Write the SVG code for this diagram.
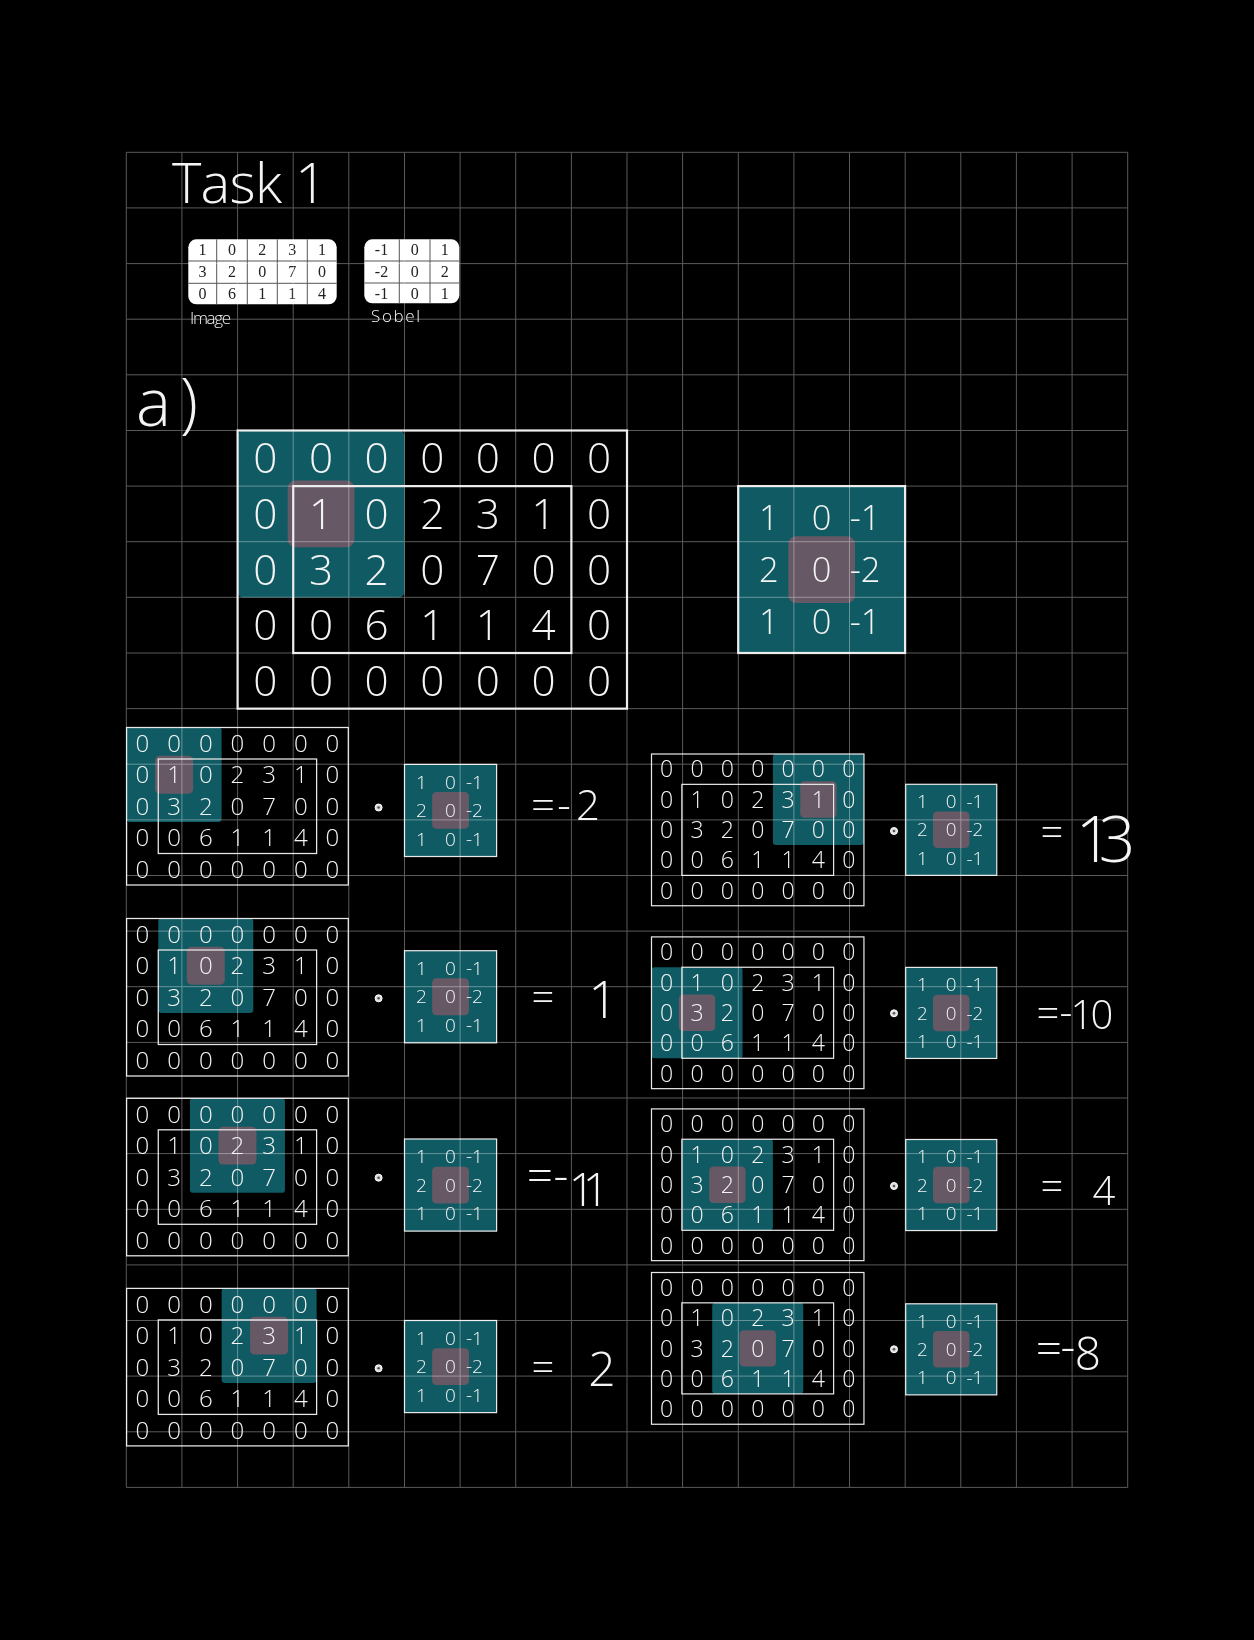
<svg xmlns="http://www.w3.org/2000/svg" xmlns:xlink="http://www.w3.org/1999/xlink" width="1254" height="1640" viewBox="0 0 1254 1640">
<style>
.bx{fill:none;stroke:#e8e8e8;stroke-width:4}
.md{font-family:"Open Sans",Lato,"Liberation Sans",sans-serif;font-weight:300;font-size:76px;fill:#f4f4f4;text-anchor:middle}
.kd{font-family:"Open Sans",Lato,"Liberation Sans",sans-serif;font-weight:300;font-size:62px;fill:#f4f4f4;text-anchor:middle}
.kt{fill:#0f5a63;stroke:#e8e8e8;stroke-width:4}
.tl{fill:#0f5a63}
.pk{fill:#675866}
.hw{font-family:"Open Sans",Lato,"Liberation Sans",sans-serif;font-weight:300;fill:#f4f4f4}
.res{font-family:"Open Sans",Lato,"Liberation Sans",sans-serif;font-weight:300;fill:#f4f4f4;text-anchor:middle}
.tb{fill:#ffffff}
.tbl{fill:none;stroke:#555555;stroke-width:1}
.tt{font-family:"Liberation Serif",serif;font-size:16px;fill:#222222;text-anchor:middle}
.grid{fill:none;stroke:#5a5a5a;stroke-width:1;mix-blend-mode:screen}
.dot{fill:#dddddd;stroke:#ffffff;stroke-width:1}
.dotc{fill:#555555}
</style>
<defs>
<g id="mat">
<rect class="bx" x="0" y="0" width="700" height="500"/>
<rect class="bx" x="100" y="100" width="500" height="300"/>
<text class="md" x="50 150 250 350 450 550 650" y="77">0000000</text>
<text class="md" x="50 150 250 350 450 550 650" y="177">0102310</text>
<text class="md" x="50 150 250 350 450 550 650" y="277">0320700</text>
<text class="md" x="50 150 250 350 450 550 650" y="377">0061140</text>
<text class="md" x="50 150 250 350 450 550 650" y="477">0000000</text>
</g>
<g id="ker">
<rect class="kt" x="0" y="0" width="300" height="300"/>
<rect class="pk" x="90" y="90" width="120" height="120" rx="14"/>
<text class="kd" x="55" y="79">1</text><text class="kd" x="150" y="79">0</text><text class="kd" x="228" y="79">-1</text>
<text class="kd" x="55" y="172">2</text><text class="kd" x="150" y="172">0</text><text class="kd" x="228" y="172">-2</text>
<text class="kd" x="55" y="265">1</text><text class="kd" x="150" y="265">0</text><text class="kd" x="228" y="265">-1</text>
</g>
</defs>
<rect x="0" y="0" width="1254" height="1640" fill="#000000"/>

<g id="title">
<text class="hw" x="172" y="203" font-size="56" textLength="155">Task 1</text>
</g>

<g id="image-table">
<rect class="tb" x="188.3" y="239.3" width="148.4" height="65" rx="8"/>
<path class="tbl" d="M216.7 239.3V304.3M247.3 239.3V304.3M277.3 239.3V304.3M307.3 239.3V304.3M188.3 261H336.7M188.3 283.3H336.7"/>
<text class="tt" x="202.5 232 262.3 292.3 322" y="254.5">10231</text>
<text class="tt" x="202.5 232 262.3 292.3 322" y="276.7">32070</text>
<text class="tt" x="202.5 232 262.3 292.3 322" y="299.3">06114</text>
<text class="hw" x="190" y="324" font-size="17" textLength="41">Image</text>
</g>

<g id="sobel-table">
<rect class="tb" x="364.3" y="239.3" width="95" height="64" rx="8"/>
<path class="tbl" d="M399.3 239.3V303.3M430 239.3V303.3M364.3 261H459.3M364.3 283H459.3"/>
<text class="tt" x="381.5" y="254.5">-1</text><text class="tt" x="414.7" y="254.5">0</text><text class="tt" x="444.7" y="254.5">1</text>
<text class="tt" x="381.5" y="276.7">-2</text><text class="tt" x="414.7" y="276.7">0</text><text class="tt" x="444.7" y="276.7">2</text>
<text class="tt" x="381.5" y="299.3">-1</text><text class="tt" x="414.7" y="299.3">0</text><text class="tt" x="444.7" y="299.3">1</text>
<text class="hw" x="371" y="322" font-size="17" textLength="49">Sobel</text>
</g>

<g id="part-a">
<text class="hw" x="136" y="426" font-size="66" textLength="62">a)</text>
</g>

<g id="big-matrix" transform="translate(237.6,430.5) scale(0.5563)">
<rect class="tl" x="0" y="0" width="300" height="300" rx="10"/>
<rect class="pk" x="90" y="90" width="120" height="120" rx="14"/>
<use href="#mat"/>
</g>
<g id="big-kernel" transform="translate(738.2,486.1) scale(0.5563)">
<use href="#ker"/>
</g>

<g id="step-1">
<g transform="translate(126.6,727.5) scale(0.3167,0.315)">
<rect class="tl" x="0" y="0" width="300" height="300" rx="10"/>
<rect class="pk" x="90" y="90" width="120" height="120" rx="14"/>
<use href="#mat"/>
</g>
<circle class="dot" cx="378.6" cy="807.5" r="3.5"/><circle class="dotc" cx="378.6" cy="807.5" r="1.3"/>
<g transform="translate(404.5,764.4) scale(0.307)"><use href="#ker"/></g>
<text class="res" font-size="42" x="543 564 588" y="820">=-2</text>
</g>

<g id="step-2">
<g transform="translate(126.6,918.5) scale(0.3167,0.315)">
<rect class="tl" x="100" y="0" width="300" height="300" rx="10"/>
<rect class="pk" x="190" y="90" width="120" height="120" rx="14"/>
<use href="#mat"/>
</g>
<circle class="dot" cx="378.6" cy="998.3" r="3.5"/><circle class="dotc" cx="378.6" cy="998.3" r="1.3"/>
<g transform="translate(404.5,950.7) scale(0.307)"><use href="#ker"/></g>
<text class="res" font-size="40" x="543" y="1011">=</text>
<text class="res" font-size="52" x="603" y="1018">1</text>
</g>

<g id="step-3">
<g transform="translate(126.6,1098.3) scale(0.3167,0.315)">
<rect class="tl" x="200" y="0" width="300" height="300" rx="10"/>
<rect class="pk" x="290" y="90" width="120" height="120" rx="14"/>
<use href="#mat"/>
</g>
<circle class="dot" cx="378.6" cy="1177.7" r="3.5"/><circle class="dotc" cx="378.6" cy="1177.7" r="1.3"/>
<g transform="translate(404.5,1139) scale(0.307)"><use href="#ker"/></g>
<text class="res" font-size="46" x="540 561 582 596" y="1192 1191 1206 1206">=-11</text>
</g>

<g id="step-4">
<g transform="translate(126.6,1288.4) scale(0.3167,0.315)">
<rect class="tl" x="300" y="0" width="300" height="300" rx="10"/>
<rect class="pk" x="390" y="90" width="120" height="120" rx="14"/>
<use href="#mat"/>
</g>
<circle class="dot" cx="378.6" cy="1368.3" r="3.5"/><circle class="dotc" cx="378.6" cy="1368.3" r="1.3"/>
<g transform="translate(404.5,1320.5) scale(0.307)"><use href="#ker"/></g>
<text class="res" font-size="40" x="543" y="1381">=</text>
<text class="res" font-size="48" x="602" y="1386">2</text>
</g>

<g id="step-5">
<g transform="translate(651.5,754) scale(0.3035)">
<rect class="tl" x="400" y="0" width="300" height="300" rx="10"/>
<rect class="pk" x="490" y="90" width="120" height="120" rx="14"/>
<use href="#mat"/>
</g>
<circle class="dot" cx="894" cy="831" r="3.5"/><circle class="dotc" cx="894" cy="831" r="1.3"/>
<g transform="translate(905.7,784.3) scale(0.3035)"><use href="#ker"/></g>
<text class="res" font-size="40" x="1052" y="846">=</text>
<text class="res" font-size="64" x="1094 1117" y="862">13</text>
</g>

<g id="step-6">
<g transform="translate(651.5,936.9) scale(0.3035)">
<rect class="tl" x="0" y="100" width="300" height="300" rx="10"/>
<rect class="pk" x="90" y="190" width="120" height="120" rx="14"/>
<use href="#mat"/>
</g>
<circle class="dot" cx="894" cy="1013.3" r="3.5"/><circle class="dotc" cx="894" cy="1013.3" r="1.3"/>
<g transform="translate(905.7,967.4) scale(0.3035)"><use href="#ker"/></g>
<text class="res" font-size="40" x="1048 1066 1082 1102" y="1027 1026 1029 1029">=-10</text>
</g>

<g id="step-7">
<g transform="translate(651.5,1108.9) scale(0.3035)">
<rect class="tl" x="100" y="100" width="300" height="300" rx="10"/>
<rect class="pk" x="190" y="190" width="120" height="120" rx="14"/>
<use href="#mat"/>
</g>
<circle class="dot" cx="894" cy="1186" r="3.5"/><circle class="dotc" cx="894" cy="1186" r="1.3"/>
<g transform="translate(905.7,1139.5) scale(0.3035)"><use href="#ker"/></g>
<text class="res" font-size="40" x="1052" y="1200">=</text>
<text class="res" font-size="40" x="1104" y="1205">4</text>
</g>

<g id="step-8">
<g transform="translate(651.5,1272.5) scale(0.3035)">
<rect class="tl" x="200" y="100" width="300" height="300" rx="10"/>
<rect class="pk" x="290" y="190" width="120" height="120" rx="14"/>
<use href="#mat"/>
</g>
<circle class="dot" cx="894" cy="1349.3" r="3.5"/><circle class="dotc" cx="894" cy="1349.3" r="1.3"/>
<g transform="translate(905.7,1303.8) scale(0.3035)"><use href="#ker"/></g>
<text class="res" font-size="46" x="1049 1068 1088" y="1365 1362 1370">=-8</text>
</g>

<g id="grid">
<path class="grid" d="M126.3 152.3V1487.4M181.9 152.3V1487.4M237.6 152.3V1487.4M293.2 152.3V1487.4M348.8 152.3V1487.4M404.5 152.3V1487.4M460.1 152.3V1487.4M515.7 152.3V1487.4M571.4 152.3V1487.4M627 152.3V1487.4M682.6 152.3V1487.4M738.3 152.3V1487.4M793.9 152.3V1487.4M849.5 152.3V1487.4M905.2 152.3V1487.4M960.8 152.3V1487.4M1016.4 152.3V1487.4M1072.1 152.3V1487.4M1127.7 152.3V1487.4M126.3 152.3H1127.7M126.3 207.9H1127.7M126.3 263.6H1127.7M126.3 319.2H1127.7M126.3 374.8H1127.7M126.3 430.5H1127.7M126.3 486.1H1127.7M126.3 541.7H1127.7M126.3 597.3H1127.7M126.3 653H1127.7M126.3 708.6H1127.7M126.3 764.2H1127.7M126.3 819.9H1127.7M126.3 875.5H1127.7M126.3 931.1H1127.7M126.3 986.7H1127.7M126.3 1042.4H1127.7M126.3 1098H1127.7M126.3 1153.6H1127.7M126.3 1209.3H1127.7M126.3 1264.9H1127.7M126.3 1320.5H1127.7M126.3 1376.1H1127.7M126.3 1431.8H1127.7M126.3 1487.4H1127.7"/>
</g>
</svg>
